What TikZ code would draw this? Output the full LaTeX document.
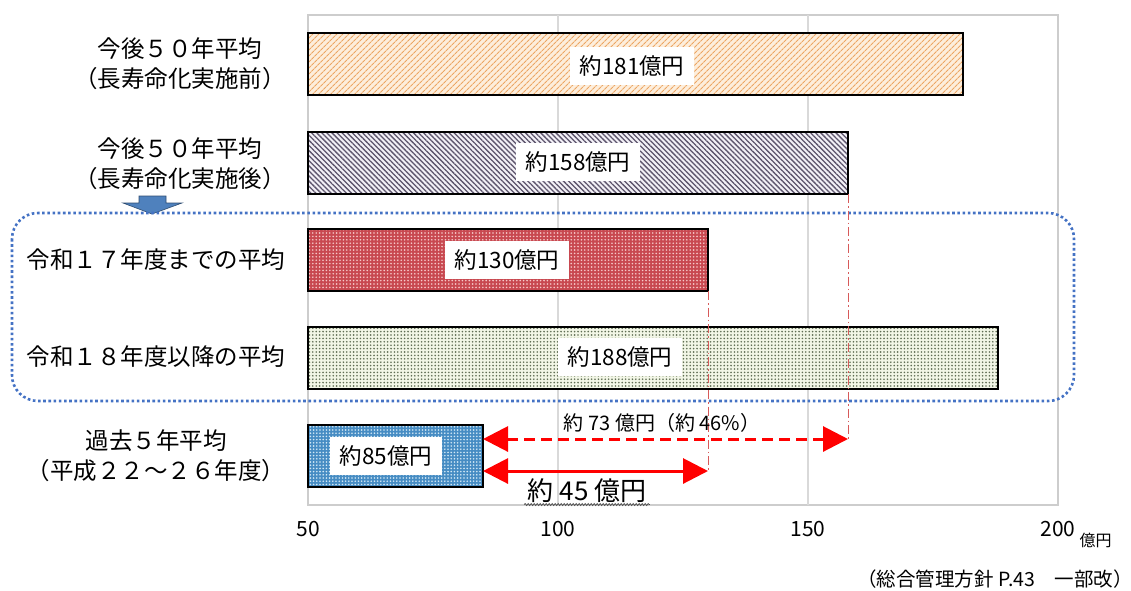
\documentclass[tikz,border=0pt]{standalone}
\usepackage{fontspec}
\setmainfont{Noto Sans CJK JP}
\usetikzlibrary{arrows.meta,patterns.meta,decorations.pathmorphing}

\definecolor{frame gray}{RGB}{205,205,205}
\definecolor{grid gray}{RGB}{217,217,217}
\definecolor{group blue}{RGB}{68,114,196}
\definecolor{guide red}{RGB}{215,90,90}
\definecolor{drop blue}{RGB}{79,129,189}
\definecolor{orange back}{RGB}{253,238,220}
\definecolor{orange line}{RGB}{236,166,100}
\definecolor{purple back}{RGB}{242,240,246}
\definecolor{purple line}{RGB}{92,84,108}
\definecolor{red back}{RGB}{200,72,80}
\definecolor{red dot}{RGB}{246,200,200}
\definecolor{green back}{RGB}{242,246,230}
\definecolor{green dot}{RGB}{96,110,84}
\definecolor{blue back}{RGB}{70,140,195}
\definecolor{blue dot}{RGB}{210,232,245}
\tikzset{
  bar/.style={draw=black, line width=1.6pt},
  orange bar/.style={preaction={fill=orange back}, pattern={Lines[angle=45,distance=4pt,line width=1.2pt]}, pattern color=orange line},
  purple bar/.style={preaction={fill=purple back}, pattern={Lines[angle=-45,distance=3.6pt,line width=1.3pt]}, pattern color=purple line},
  red bar/.style={preaction={fill=red back}, pattern={Dots[distance=3.4pt,radius=0.9pt]}, pattern color=red dot},
  green bar/.style={preaction={fill=green back}, pattern={Dots[distance=3.4pt,radius=0.9pt]}, pattern color=green dot},
  blue bar/.style={preaction={fill=blue back}, pattern={Dots[distance=3.2pt,radius=0.9pt]}, pattern color=blue dot},
  value box/.style={fill=white, inner xsep=10pt, inner ysep=9pt, font=\fontsize{22.5}{22.5}\selectfont},
  cat label/.style={align=center, font=\fontsize{23.5}{30}\selectfont},
  tick label/.style={font=\fontsize{21}{21}\selectfont}
}
\tikzstyle{gap arrow} = [draw=red, line width=3pt, {Triangle[length=25pt,width=25pt]}-{Triangle[length=25pt,width=25pt]}]
\tikzstyle{guide} = [draw=guide red, line width=1pt, dash pattern=on 9pt off 3pt on 1.5pt off 3pt]
\tikzstyle{group box} = [draw=group blue, line width=2.6pt, dash pattern=on 2.6pt off 2.6pt, rounded corners=26pt]

\begin{document}
\begin{tikzpicture}[x=1pt,y=-1pt]
    \useasboundingbox (0,0) rectangle (1131,590);

    % Definition of the plot frame
    \def\plotarea{(308,15) rectangle (1058,505)};

    \draw[frame gray, line width=1.5pt] \plotarea;
    \foreach \gx in {558,808} {
      \draw[grid gray, line width=1.5pt] (\gx,15) -- (\gx,505);
    }

    % bars, value -> x = 308 + 5*(value-50)
    \foreach \name/\val/\ypos/\sty in {before/181/33/orange bar, after/158/132/purple bar, reiwa17/130/229/red bar, reiwa18/188/327/green bar, past/85/425/blue bar} {
      \draw[bar, \sty] (308,\ypos) rectangle ({308+5*(\val-50)},\ypos+62);
    }
    \coordinate (after-se) at (848,194);
    \coordinate (reiwa17-se) at (708,291);
    \coordinate (past-top) at (483,439);
    \coordinate (past-low) at (483,471);

    \foreach \pos/\name/\txt in {{(632,66)/v181/約181億円}, {(578,162)/v158/約158億円}, {(507,260)/v130/約130億円}, {(620,357)/v188/約188億円}, {(386,456)/v85/約85億円}} {
      \node[value box] (\name) at \pos {\txt};
    }

    % category labels
    \node[cat label] (lab-before) at (180,64) {今後５０年平均\\（長寿命化実施前）};
    \node[cat label] (lab-after) at (180,164) {今後５０年平均\\（長寿命化実施後）};
    \node[cat label] (lab-reiwa17) at (156,260) {令和１７年度までの平均};
    \node[cat label] (lab-reiwa18) at (156,357) {令和１８年度以降の平均};
    \node[cat label] (lab-past) at (156,456) {過去５年平均\\（平成２２～２６年度）};

    \filldraw[fill=drop blue, draw=drop blue!60!black, line width=0.6pt]
      (139,196) -- (166,196) -- (166,203) -- (182,203) -- (152,214) -- (123,203) -- (139,203) -- cycle;
    \draw[group box] (12,213) rectangle (1074,401);

    % differences
    \draw[guide] (after-se) -- (after-se |- past-top);
    \draw[guide] (reiwa17-se) -- (reiwa17-se |- past-low);
    \draw[gap arrow, dash pattern=on 11pt off 6pt] (past-top) -- (after-se |- past-top);
    \draw[gap arrow] (past-low) -- (reiwa17-se |- past-low);
    \node[font=\fontsize{20}{20}\selectfont] (diff73) at (662,423) {約 73 億円（約 46\%）};
    \node[font=\fontsize{26}{26}\selectfont] (diff45) at (587,491) {約 45 億円};
    \draw[black!70, line width=0.7pt, decorate, decoration={snake,amplitude=1pt,segment length=3pt}]
      ([yshift=2pt]diff45.south west) -- ([yshift=2pt]diff45.south east);

    % axis
    \foreach \tx/\tv in {308/50, 558/100, 808/150, 1058/200} {
      \node[tick label] (tick\tv) at (\tx,529) {\tv};
    }
    \node[font=\fontsize{16}{16}\selectfont, anchor=west] (unit) at (1076,540) {億円};
    \node[font=\fontsize{19.5}{19.5}\selectfont, anchor=east, inner sep=0pt] (source) at (1133,579) {（総合管理方針 P.43　一部改）};
\end{tikzpicture}
\end{document}
